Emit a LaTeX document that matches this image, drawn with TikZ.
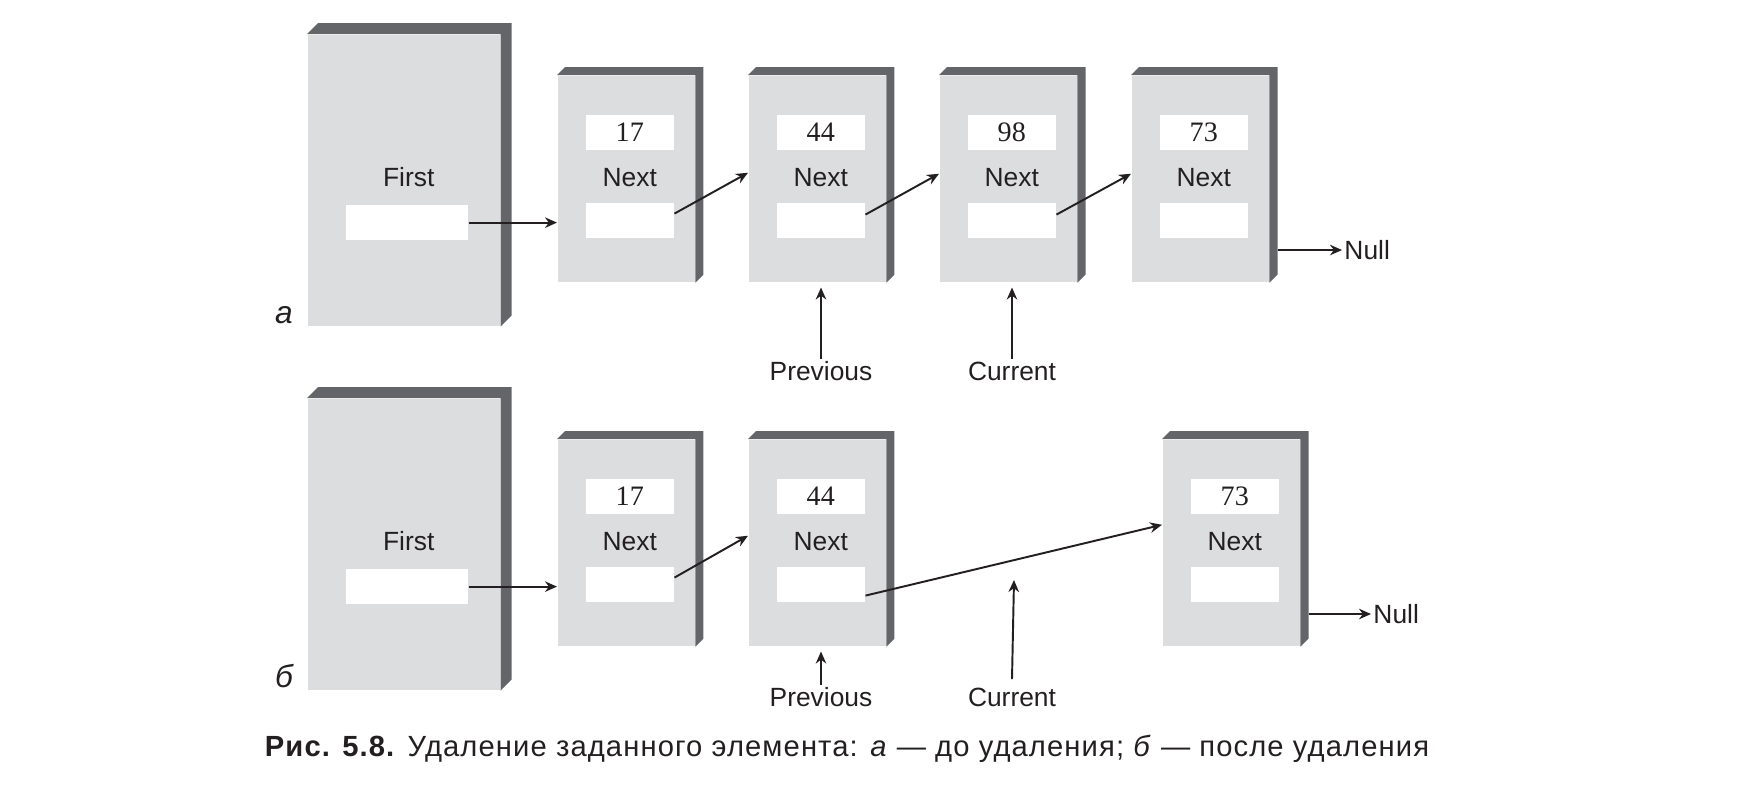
\documentclass[tikz,border=0pt]{standalone}
\usepackage{fontspec}
\setmainfont{Liberation Sans}
\newfontfamily\numfont{Liberation Serif}
\newfontfamily\capfont[LetterSpace=3.8]{Liberation Sans}
\usetikzlibrary{arrows.meta}
\definecolor{facegray}{HTML}{DCDDDF}
\definecolor{edgegray}{HTML}{646569}
\definecolor{inkc}{HTML}{231F20}
% dark top and right side of a box
\newcommand{\boxedge}[2]{%
  \fill[edgegray] (#1.north west) -- ([shift={(#2,#2)}]#1.north west)
    -- ([shift={(#2,#2)}]#1.north east) -- ([shift={(#2,#2)}]#1.south east)
    -- (#1.south east) -- (#1.north east) -- cycle;}

\begin{document}
\begin{tikzpicture}[x=0.01cm, y=-0.01cm,
    every node/.append style={text=inkc},
    face/.style={fill=facegray, inner sep=0pt, anchor=north west},
    elem/.style={face, minimum width=1.37cm, minimum height=2.06cm},
    head/.style={face, minimum width=1.92cm, minimum height=2.91cm},
    field/.style={fill=white, inner sep=0pt, minimum width=0.88cm, minimum height=0.345cm,
      font=\numfont\fontsize{8}{9}\selectfont},
    lbl/.style={inner sep=0.5pt, font=\fontsize{7.5}{9}\selectfont},
    rowlbl/.style={anchor=base, inner sep=0pt, font=\itshape\fontsize{9}{10}\selectfont},
    ptr/.style={-{Stealth[length=1.2mm,width=1.05mm]}, line width=0.55pt, draw=inkc}]
    \useasboundingbox (0,0) rectangle (1757,796);

    % a: before deletion
    \node[head] (aF) at (307,34) {};
    \boxedge{aF}{0.11cm}
    \node[lbl] (aF-t) at ([xshift=0.05cm, yshift=-1.43cm]aF.north) {First};
    \node[field, minimum width=1.22cm] (aF-p) at ([xshift=0.03cm, yshift=-1.885cm]aF.north) {};
    \foreach \nm/\xx/\val in {a17/557/17, a44/748/44, a98/939/98, a73/1131/73} {
      \node[elem] (\nm) at (\xx,75) {};
      \boxedge{\nm}{0.08cm}
      \node[field] (\nm-v) at ([xshift=0.035cm, yshift=-0.575cm]\nm.north) {\val};
      \node[lbl] (\nm-t) at ([xshift=0.035cm, yshift=-1.027cm]\nm.north) {Next};
      \node[field] (\nm-p) at ([xshift=0.035cm, yshift=-1.455cm]\nm.north) {};
    }
    \node[rowlbl] (labA) at (284,323) {а};
    \draw[ptr] (aF-p.east) -- (aF-p.east -| a17.west);
    \draw[ptr] ([yshift=0.07cm]a17-p.east) -- ([yshift=0.06cm]a44.west);
    \draw[ptr] ([yshift=0.06cm]a44-p.east) -- ([yshift=0.05cm]a98.west);
    \draw[ptr] ([yshift=0.06cm]a98-p.east) -- ([yshift=0.05cm]a73.west);
    \node[lbl, anchor=west] (aN) at (1342,250) {Null};
    \coordinate (aE) at ([xshift=0.08cm]a73.east);
    \draw[ptr] (aE |- aN.west) -- (aN.west);
    \node[lbl] (aPrev) at (821,371) {Previous};
    \node[lbl] (aCur) at (1012,371) {Current};
    \draw[ptr, shorten >=0.05cm] (aPrev.north) -- (aPrev.north |- a44.south);
    \draw[ptr, shorten >=0.05cm] (aCur.north) -- (aCur.north |- a98.south);

    % b: after deletion
    \node[head] (bF) at (307,398) {};
    \boxedge{bF}{0.11cm}
    \node[lbl] (bF-t) at ([xshift=0.05cm, yshift=-1.43cm]bF.north) {First};
    \node[field, minimum width=1.22cm] (bF-p) at ([xshift=0.03cm, yshift=-1.885cm]bF.north) {};
    \foreach \nm/\xx/\val in {b17/557/17, b44/748/44, b73/1162/73} {
      \node[elem] (\nm) at (\xx,439) {};
      \boxedge{\nm}{0.08cm}
      \node[field] (\nm-v) at ([xshift=0.035cm, yshift=-0.575cm]\nm.north) {\val};
      \node[lbl] (\nm-t) at ([xshift=0.035cm, yshift=-1.027cm]\nm.north) {Next};
      \node[field] (\nm-p) at ([xshift=0.035cm, yshift=-1.455cm]\nm.north) {};
    }
    \node[rowlbl] (labB) at (284,687) {б};
    \draw[ptr] (bF-p.east) -- (bF-p.east -| b17.west);
    \draw[ptr] ([yshift=0.07cm]b17-p.east) -- ([yshift=0.07cm]b44.west);
    \draw[ptr] ([yshift=-0.11cm]b44-p.east) -- ([yshift=0.18cm]b73.west);
    \node[lbl, anchor=west] (bN) at (1371,614) {Null};
    \coordinate (bE) at ([xshift=0.08cm]b73.east);
    \draw[ptr] (bE |- bN.west) -- (bN.west);
    \node[lbl] (bPrev) at (821,697) {Previous};
    \node[lbl] (bCur) at (1012,697) {Current};
    \coordinate (bGap) at (1014,580);
    \draw[ptr, shorten >=0.05cm] (bPrev.north) -- (bPrev.north |- b44.south);
    \draw[ptr] ([yshift=0.06cm]bCur.north) -- (bGap);

    \node[lbl, font=\capfont\fontsize{8.3}{9}\selectfont] (cap) at (847,749) {\textbf{Рис. 5.8.} Удаление заданного элемента: \textit{а} — до удаления; \textit{б} — после удаления};
  \end{tikzpicture}
\end{document}
